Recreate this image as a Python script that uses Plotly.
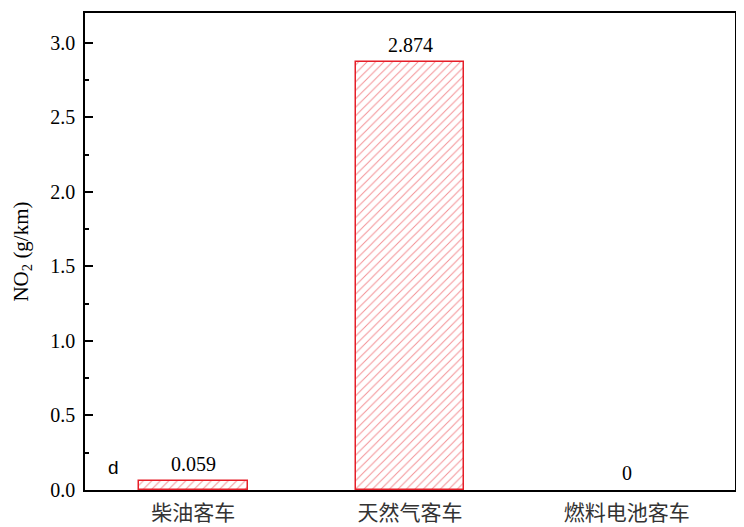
import plotly.graph_objects as go

# bus types and NO2 emission factors (g/km)
categories = ["柴油客车", "天然气客车", "燃料电池客车"]
no2_values = [0.059, 2.874, 0]
value_labels = ["0.059", "2.874", "0"]

y_ticks = [0.0, 0.5, 1.0, 1.5, 2.0, 2.5, 3.0]

RED = "#e61e28"
SERIF = "Liberation Serif"
CJK = "Noto Sans CJK SC"

fig = go.Figure()

# empty bars get no outline
outline_widths = [1.5 if v > 0 else 0 for v in no2_values]

fig.add_trace(
    go.Bar(
        x=list(range(len(categories))),
        y=no2_values,
        width=0.5,
        marker=dict(
            color="white",
            line=dict(color=RED, width=outline_widths),
            pattern=dict(shape="/", fgcolor=RED, bgcolor="white", size=6, solidity=0.16),
        ),
        showlegend=False,
    )
)

# value labels above bars
for i, (v, lab) in enumerate(zip(no2_values, value_labels)):
    fig.add_annotation(
        x=i, y=v, text=lab, showarrow=False,
        yanchor="bottom", yshift=4,
        font=dict(family=SERIF, size=20, color="black"),
    )

# panel letter
fig.add_annotation(
    x=-0.37, y=0.15, text="d", showarrow=False,
    xref="x", yref="y",
    font=dict(family="Liberation Sans", size=19, color="black"),
)

# page body has an 8px margin, so the figure is trimmed to fit the window
fig.update_layout(
    width=736,
    height=519,
    margin=dict(l=77, r=9, t=5, b=37),
    plot_bgcolor="white",
    paper_bgcolor="white",
    bargap=0,
)

fig.update_xaxes(
    range=[-0.5, 2.5],
    tickmode="array",
    tickvals=list(range(len(categories))),
    ticktext=categories,
    tickfont=dict(family=CJK, size=21, color="#333"),
    ticklabelstandoff=3,
    automargin=False,
    showgrid=False,
    zeroline=False,
    showline=True,
    linecolor="black",
    linewidth=1.5,
    mirror=True,
    ticks="",
)

fig.update_yaxes(
    range=[0, 3.2],
    tickmode="array",
    tickvals=y_ticks,
    ticktext=[f"{t:.1f}" for t in y_ticks],
    tickfont=dict(family=SERIF, size=20, color="black"),
    ticklabelstandoff=4,
    ticks="inside",
    ticklen=8,
    tickwidth=1.5,
    tickcolor="black",
    minor=dict(ticks="inside", ticklen=4, tickwidth=1.5, tickcolor="black", dtick=0.25),
    showgrid=False,
    zeroline=False,
    showline=True,
    linecolor="black",
    linewidth=1.5,
    mirror=True,
    title=dict(text="NO<sub>2</sub> (g/km)", font=dict(family=SERIF, size=21, color="black"), standoff=16),
)

fig.write_html("out.html")
